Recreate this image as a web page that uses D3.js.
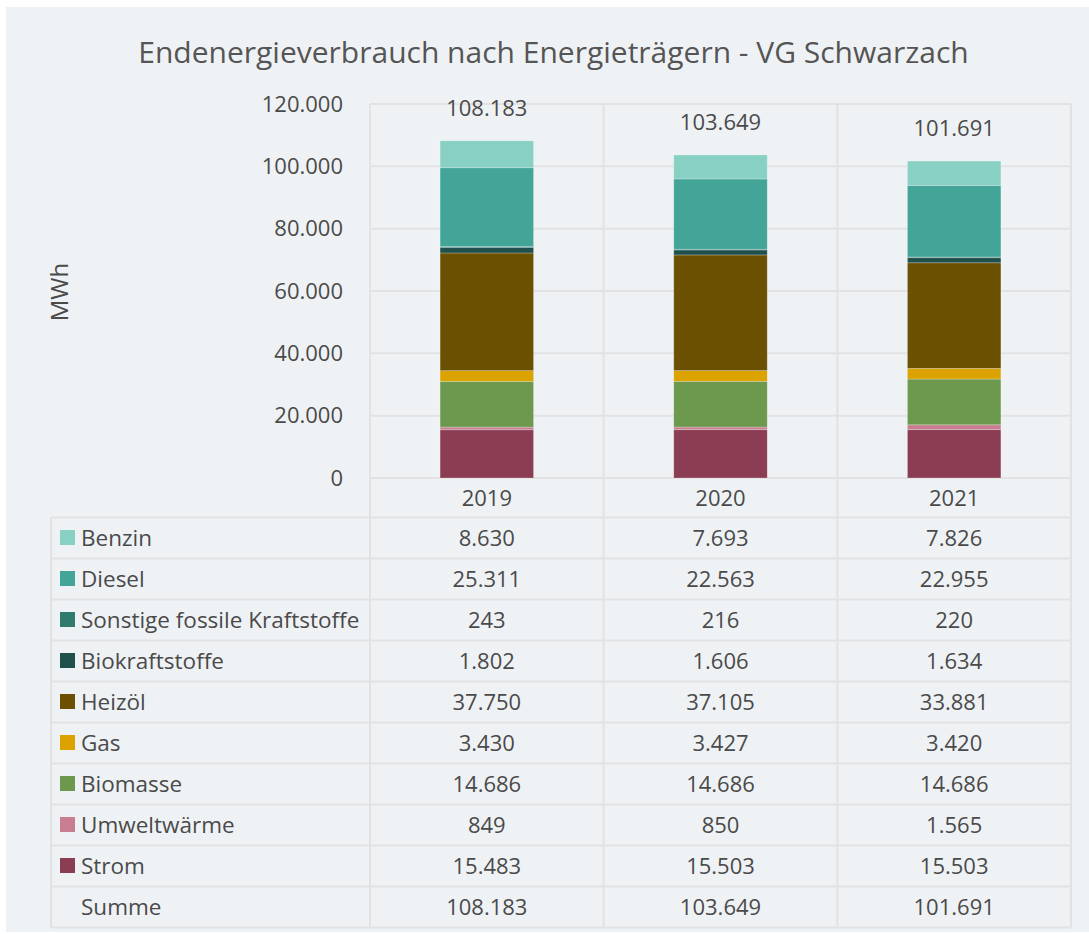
<!DOCTYPE html>
<html><head><meta charset="utf-8">
<script src="https://cdn.jsdelivr.net/npm/d3@7"></script>
<style>html,body{margin:0;padding:0;background:#fff;} svg{display:block;font-family:"Open Sans",sans-serif;}</style>
</head><body><div id="chart"></div>
<script>
const title = "Endenergieverbrauch nach Energieträgern - VG Schwarzach";
const years = ["2019", "2020", "2021"];
const seriesNames = ["Benzin", "Diesel", "Sonstige fossile Kraftstoffe", "Biokraftstoffe", "Heizöl", "Gas", "Biomasse", "Umweltwärme", "Strom"];
const seriesColors = ["#88d0c4", "#42a597", "#307a6e", "#1f504b", "#6a5000", "#dca300", "#6c994e", "#c87d90", "#8a3d53"];
const benzin = [8630, 7693, 7826];
const diesel = [25311, 22563, 22955];
const sonstige = [243, 216, 220];
const biokraftstoffe = [1802, 1606, 1634];
const heizoel = [37750, 37105, 33881];
const gas = [3430, 3427, 3420];
const biomasse = [14686, 14686, 14686];
const umweltwaerme = [849, 850, 1565];
const strom = [15483, 15503, 15503];
const summe = [108183, 103649, 101691];
const yTicks = [0, 20000, 40000, 60000, 80000, 100000, 120000];
const yLabel = "MWh";
const sumLabel = "Summe";

const seriesValues = [benzin, diesel, sonstige, biokraftstoffe, heizoel, gas, biomasse, umweltwaerme, strom];

const W = 1089, H = 934;
const fmt = d3.formatLocale({decimal: ",", thousands: ".", grouping: [3], currency: ["", "€"]}).format(",.0f");

const svg = d3.select("#chart").append("svg").attr("width", W).attr("height", H);
svg.append("rect").attr("width", W).attr("height", H).attr("fill", "#fff");
svg.append("rect").attr("x", 6).attr("y", 7).attr("width", W - 6).attr("height", 925).attr("fill", "#eff2f5");

const plotL = 370, plotR = 1071, plotT = 104, plotB = 478;
const tableL = 51, tableT = 517.5, rowH = 41;
const nRows = seriesNames.length + 1;
const tableB = tableT + nRows * rowH;

const x = d3.scaleBand().domain(years).range([plotL, plotR]).padding(0);
const y = d3.scaleLinear().domain([0, 120000]).range([plotB, plotT]);
const gridColor = "#e2e2e2";
const textColor = "#4a4a4a";
const numSize = "22px", labSize = "22.5px";

// horizontal grid
svg.append("g").selectAll("line").data(yTicks).join("line")
  .attr("x1", plotL).attr("x2", plotR)
  .attr("y1", d => y(d)).attr("y2", d => y(d))
  .attr("stroke", gridColor).attr("stroke-width", 2);

// y axis labels
const yAxis = d3.axisLeft(y).tickValues(yTicks).tickFormat(fmt).tickSize(0).tickPadding(0);
const ya = svg.append("g").attr("transform", `translate(343,0)`).call(yAxis);
ya.select(".domain").remove();
ya.selectAll("text").attr("fill", textColor).style("font-size", numSize).style("font-family", '"Open Sans",sans-serif');

// vertical grid / column lines
const colEdges = years.map(d => x(d)).concat([plotR]);
svg.append("g").selectAll("line").data(colEdges).join("line")
  .attr("x1", d => d).attr("x2", d => d)
  .attr("y1", plotT).attr("y2", tableB)
  .attr("stroke", gridColor).attr("stroke-width", 2);

// table horizontal lines
const rowLines = d3.range(nRows + 1).map(i => tableT + i * rowH);
svg.append("g").selectAll("line").data(rowLines).join("line")
  .attr("x1", tableL).attr("x2", plotR)
  .attr("y1", d => d).attr("y2", d => d)
  .attr("stroke", gridColor).attr("stroke-width", 2);
svg.append("line").attr("x1", tableL).attr("x2", tableL).attr("y1", tableT).attr("y2", tableB)
  .attr("stroke", gridColor).attr("stroke-width", 2);

// stacked bars
const rows = years.map((yr, i) => {
  const o = {year: yr};
  seriesNames.forEach((s, k) => o[s] = seriesValues[k][i]);
  return o;
});
const stackKeys = seriesNames.slice().reverse();
const stacked = d3.stack().keys(stackKeys)(rows);
const color = d3.scaleOrdinal().domain(seriesNames).range(seriesColors);
const barW = x.bandwidth() * 0.4;
svg.append("g").selectAll("g").data(stacked).join("g")
  .attr("fill", d => color(d.key))
  .selectAll("rect").data(d => d).join("rect")
  .attr("x", d => x(d.data.year) + (x.bandwidth() - barW) / 2)
  .attr("width", barW)
  .attr("y", d => y(d[1]))
  .attr("height", d => y(d[0]) - y(d[1]))
  .attr("stroke", "rgba(255,255,255,0.3)").attr("stroke-width", 0.8);

// total labels
svg.append("g").selectAll("text").data(years).join("text")
  .attr("x", d => x(d) + x.bandwidth() / 2)
  .attr("y", (d, i) => y(summe[i]) - 33)
  .attr("dy", "0.35em").attr("text-anchor", "middle")
  .attr("fill", textColor).style("font-size", numSize)
  .text((d, i) => fmt(summe[i]));

// year header
svg.append("g").selectAll("text").data(years).join("text")
  .attr("x", d => x(d) + x.bandwidth() / 2)
  .attr("y", (plotB + tableT) / 2 + 1)
  .attr("dy", "0.35em").attr("text-anchor", "middle")
  .attr("fill", textColor).style("font-size", numSize)
  .text(d => d);

// table rows
const tableData = seriesNames.map((s, k) => ({name: s, color: seriesColors[k], vals: seriesValues[k]}))
  .concat([{name: sumLabel, color: null, vals: summe}]);
const rg = svg.append("g").selectAll("g").data(tableData).join("g")
  .attr("transform", (d, i) => `translate(0,${tableT + i * rowH + rowH / 2})`);
rg.filter(d => d.color).append("rect")
  .attr("x", 60).attr("y", -8).attr("width", 15).attr("height", 15)
  .attr("fill", d => d.color);
rg.append("text").attr("x", 81).attr("dy", "0.35em")
  .attr("fill", textColor).style("font-size", labSize).text(d => d.name);
rg.selectAll("text.v").data(d => d.vals).join("text").attr("class", "v")
  .attr("x", (v, i) => x(years[i]) + x.bandwidth() / 2)
  .attr("dy", "0.35em").attr("text-anchor", "middle")
  .attr("fill", textColor).style("font-size", numSize).text(v => fmt(v));

// title
svg.append("text").attr("x", (136 + 971) / 2).attr("y", 52).attr("dy", "0.35em")
  .attr("text-anchor", "middle").attr("fill", "#555").style("font-size", "30px").text(title);

// y label
svg.append("text").attr("transform", "translate(60,292) rotate(-90)").attr("dy", "0.35em")
  .attr("text-anchor", "middle").attr("fill", textColor).style("font-size", "24px").text(yLabel);
</script></body></html>
